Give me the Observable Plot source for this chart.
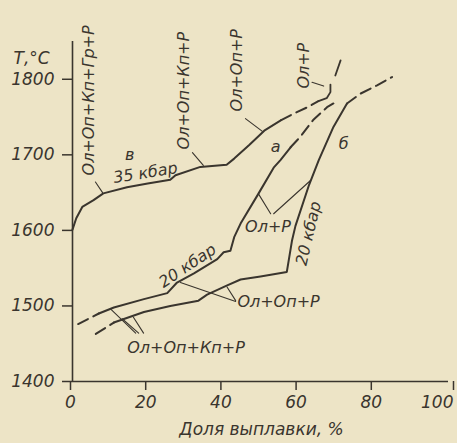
<!DOCTYPE html>
<html><head><meta charset="utf-8">
<script src="https://cdn.jsdelivr.net/npm/d3@7"></script>
<script src="https://cdn.jsdelivr.net/npm/@observablehq/plot@0.6"></script>
<style>
html,body{margin:0;padding:0;background:#ede4c6;}
</style></head><body><div id="chart"></div>
<script>
// Axis ticks
const xTicks = [0, 20, 40, 60, 80];
const xTickLast = [100];
const yTicks = [1400, 1500, 1600, 1700, 1800];

// Curve "в" (35 kbar): [melt fraction %, T °C]
const curveV = [[0,1601],[1,1616],[2.6,1631],[5.6,1640],[8.2,1649],[14.5,1657],[20,1662],[26,1667],[27.4,1673],[34,1684],[41,1687],[43,1695],[47,1713],[51,1732],[55.5,1746]];
const curveVdash = [[55.5,1746],[59,1755],[62.5,1763],[65.4,1771]];
const curveVhook = [[65.4,1771],[67.6,1775],[68.6,1783],[68.6,1793]];
const curveVtop = [[69.9,1805],[71.3,1825]];

// Curve "а" (20 kbar)
const curveAdashLow = [[1.5,1476],[7,1490]];
const curveA = [[7,1490],[11,1498],[19,1509],[25.2,1517],[27.8,1531],[32.3,1543],[38.5,1562],[40.2,1571],[42,1573],[43,1591],[44.7,1609],[49.5,1649],[53.5,1683],[55.3,1693],[58,1710]];
const curveAdash = [[58,1710],[60.6,1724],[64,1746],[67.7,1763],[69.4,1768]];

// Curve "б" (20 kbar)
const curveBdashLow = [[6.2,1463],[11,1478]];
const curveB = [[11,1478],[19,1492],[26,1500],[33.5,1507],[35.8,1515],[41,1527],[44.7,1535],[50,1539],[57,1545],[58.4,1587],[59.3,1606],[62.9,1660],[65.5,1693],[69.4,1737],[73,1768]];
const curveBdash = [[73,1768],[76.6,1781],[81,1792],[85,1803]];

// Leader lines (label pointers)
const leaders = [
  [[6.1,1664],[8.0,1650]],
  [[31.9,1703],[34.8,1686]],
  [[46,1748],[50.5,1731]],
  [[63.7,1796],[66.8,1791]],
  [[49.5,1648],[52.7,1622]],
  [[63.3,1666],[53.5,1622]],
  [[28.7,1531],[43.4,1506]],
  [[41.1,1525],[43.4,1507]],
  [[10.1,1496],[16.8,1464]],
  [[13.2,1483],[17.6,1464]],
  [[16.2,1485],[18.9,1464]]
];

// Labels
const labelText = ["Ол+Оп+Кп+Гр+Р","Ол+Оп+Кп+Р","Ол+Оп+Р","Ол+Р","в","35 кбар","а","б","Ол+Р","20 кбар","20 кбар","Ол+Оп+Р","Ол+Оп+Кп+Р"];
const labelX    = [4.4, 29.5, 43.6, 61.6, 15.2, 19.4, 54, 72.1, 52, 30.6, 62.8, 54.8, 30.2];
const labelT    = [1772, 1785, 1812, 1818, 1700, 1676, 1710, 1715, 1604, 1553, 1596, 1505, 1445];
const labelAngle= [-90, -90, -90, -90, 0, -9, 0, 0, 0, -34, -77, 0, 0];

const rows = (arr) => arr.map(([x, t]) => ({x, t}));
const leaderRows = leaders.flatMap((seg, i) => seg.map(([x, t]) => ({x, t, id: i})));
const labels = labelText.map((text, i) => ({text, x: labelX[i], t: labelT[i], rotate: labelAngle[i]}));

const ink = "#3a352e";
const font = "DejaVu Sans";
const dash = "11,6";
const fmt = d => String(d);

const chart = Plot.plot({
  width: 457,
  height: 443,
  marginLeft: 72,
  marginRight: 9,
  marginTop: 41,
  marginBottom: 62,
  x: {domain: [0, 100]},
  y: {domain: [1400, 1850]},
  style: {background: "#ede4c6", color: ink, fontFamily: font, fontStyle: "italic", fontSize: "16px"},
  marks: [
    Plot.axisX({ticks: xTicks, tickFormat: fmt, tickSize: 9, tickPadding: 5, label: null, fontSize: 17, strokeWidth: 1.5, dx: -2}),
    Plot.axisX({ticks: xTickLast, tickFormat: fmt, tickSize: 9, tickPadding: 5, label: null, fontSize: 17, strokeWidth: 1.5, textAnchor: "end", dx: 5}),
    Plot.axisY({ticks: yTicks, tickFormat: fmt, tickSize: 10, tickPadding: 8, label: null, fontSize: 17, strokeWidth: 1.5}),
    Plot.ruleX([0], {y1: 1400, y2: 1850, stroke: ink, strokeWidth: 1.6}),
    Plot.ruleY([1400], {x1: 0, x2: 100, stroke: ink, strokeWidth: 1.6}),
    // curve в
    Plot.line(rows(curveV), {x: "x", y: "t", stroke: ink, strokeWidth: 2}),
    Plot.line(rows(curveVdash), {x: "x", y: "t", stroke: ink, strokeWidth: 2, strokeDasharray: dash}),
    Plot.line(rows(curveVhook), {x: "x", y: "t", stroke: ink, strokeWidth: 1.8}),
    Plot.line(rows(curveVtop), {x: "x", y: "t", stroke: ink, strokeWidth: 1.8}),
    // curve а
    Plot.line(rows(curveAdashLow), {x: "x", y: "t", stroke: ink, strokeWidth: 2, strokeDasharray: dash}),
    Plot.line(rows(curveA), {x: "x", y: "t", stroke: ink, strokeWidth: 2}),
    Plot.line(rows(curveAdash), {x: "x", y: "t", stroke: ink, strokeWidth: 2, strokeDasharray: dash}),
    // curve б
    Plot.line(rows(curveBdashLow), {x: "x", y: "t", stroke: ink, strokeWidth: 2, strokeDasharray: dash}),
    Plot.line(rows(curveB), {x: "x", y: "t", stroke: ink, strokeWidth: 2}),
    Plot.line(rows(curveBdash), {x: "x", y: "t", stroke: ink, strokeWidth: 2, strokeDasharray: dash}),
    // leaders
    Plot.line(leaderRows, {x: "x", y: "t", z: "id", stroke: ink, strokeWidth: 1.1}),
    // labels
    Plot.text(labels, {x: "x", y: "t", text: "text", rotate: "rotate", fill: ink, fontSize: 16, fontStyle: "italic", fontFamily: font}),
    // axis titles
    Plot.text(["Т,°С"], {frameAnchor: "top-left", textAnchor: "start", dx: -59, dy: 10, fill: ink, fontSize: 17, fontStyle: "italic", fontFamily: font}),
    Plot.text(["Доля выплавки, %"], {frameAnchor: "bottom", dx: 1, dy: 53, fill: ink, fontSize: 17, fontStyle: "italic", fontFamily: font})
  ]
});
document.getElementById("chart").appendChild(chart);
</script>
</body></html>
